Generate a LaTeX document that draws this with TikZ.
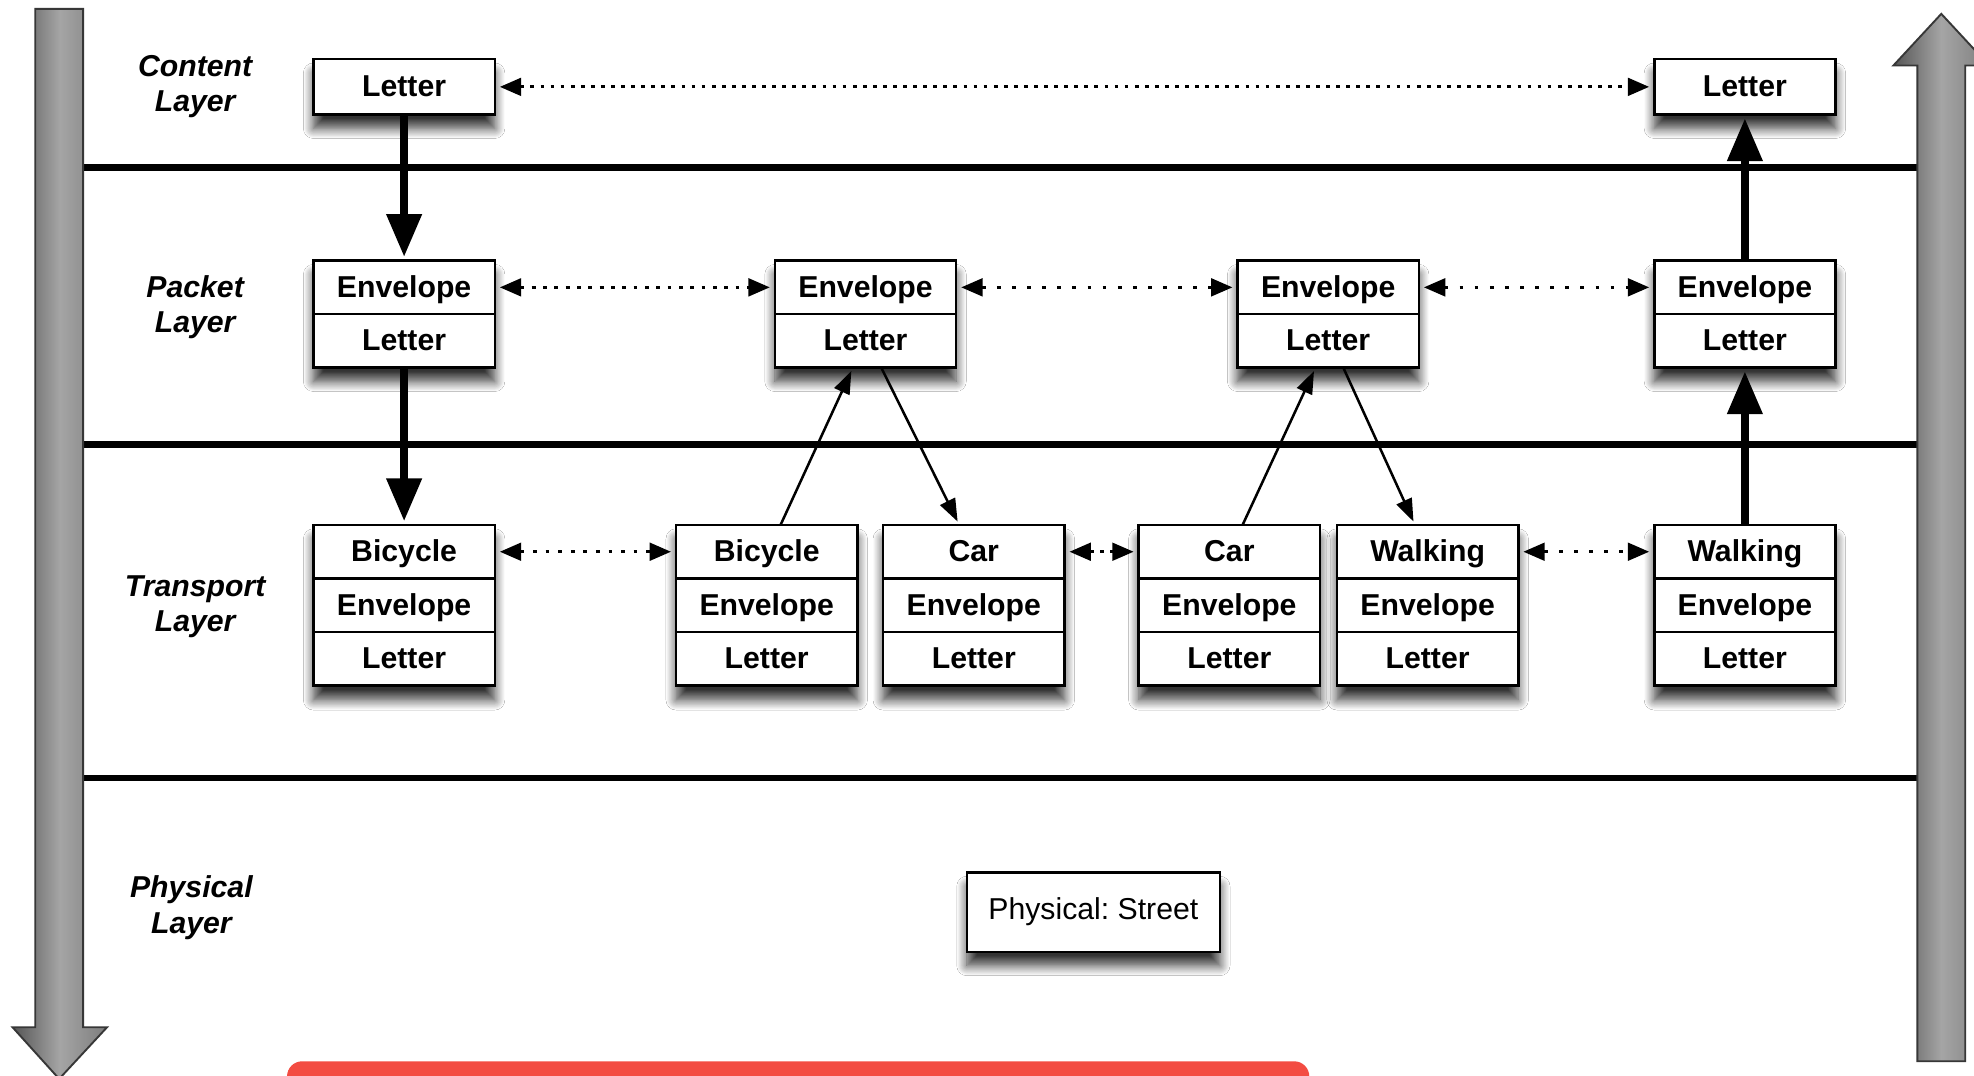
\documentclass[tikz,border=0pt]{standalone}
\usepackage{fontspec}
\setmainfont{Liberation Sans}
\frenchspacing
\usetikzlibrary{arrows.meta,shadows.blur}
\definecolor{barred}{RGB}{243,76,66}
\definecolor{arrowedge}{RGB}{55,55,55}
\definecolor{shadeA}{RGB}{85,85,85}
\definecolor{shadeB}{RGB}{165,165,165}
\definecolor{shadeC}{RGB}{125,125,125}
\begin{document}
\begin{tikzpicture}[x=1pt,y=-1pt,
  shad/.style={blur shadow={shadow xshift=0pt, shadow yshift=-11pt, shadow blur radius=8pt, shadow blur steps=12, shadow opacity=80}},
  frame/.style={draw=black, line width=2pt, fill=white, minimum width=144pt, inner sep=0pt, outer sep=0pt, anchor=north, shad},
  cell/.style={draw=black, line width=2pt, fill=white, minimum width=144pt, minimum height=42.5pt, inner sep=0pt, outer sep=0pt, anchor=north, font=\fontsize{24}{28}\selectfont\bfseries, text height=19pt, text depth=3pt},
  layerlabel/.style={align=center, font=\fontsize{24}{28}\selectfont\bfseries\itshape},
  layerline/.style={line width=5pt, black},
  bigarrow/.style={draw=arrowedge, line width=1.5pt, left color=shadeA, right color=shadeC, middle color=shadeB},
  dotarr/.style={line width=2.5pt, dash pattern=on 3pt off 5pt, {Triangle[length=17pt,width=14pt]}-{Triangle[length=17pt,width=14pt]}, shorten <=4pt, shorten >=4pt},
  sparsearr/.style={dotarr, dash pattern=on 3pt off 9pt},
  thickarr/.style={line width=6pt, -{Triangle[length=34pt,width=27pt]}, shorten >=3pt},
  thinarr/.style={line width=2pt, -{Triangle[length=18pt,width=13pt]}, shorten >=3pt}
]
\useasboundingbox (0,0) rectangle (1568,854);
\clip (0,0) rectangle (1568,854);
\fill[white] (0,0) rectangle (1568,854);

% layer separators
\draw[layerline] (66,133) -- (1523,133);
\draw[layerline] (66,353) -- (1523,353);
\draw[layerline] (66,618) -- (1523,618);

% big side arrows
\draw[bigarrow] (28,7) -- (66,7) -- (66,816) -- (85,816) -- (47,857) -- (10,816) -- (28,816) -- cycle;
\draw[bigarrow] (1523,843) -- (1561,843) -- (1561,52) -- (1580,52) -- (1542,11) -- (1504,52) -- (1523,52) -- cycle;

% layer labels
\node[layerlabel] (lc) at (155,69) {Content\\Layer};
\node[layerlabel] (lp) at (155,244) {Packet\\Layer};
\node[layerlabel] (lt) at (155,482) {Transport\\Layer};
\node[layerlabel] (lph) at (152,721) {Physical\\Layer};

% content layer
\node[cell, minimum height=44pt, shad] (L1) at (321,47) {Letter};
\node[cell, minimum height=44pt, shad] (L2) at (1386,47) {Letter};

% packet layer
\foreach \n/\x in {P1/321, P2/687.5, P3/1055, P4/1386}{
  \node[frame, minimum height=85pt] (\n) at (\x,207) {};
  \node[cell] (\n e) at (\n.north) {Envelope};
  \node[cell] (\n l) at (\n e.south) {Letter};
}

% transport layer
\foreach \n/\x/\t in {T1/321/Bicycle, T2/609/Bicycle, T3/773.5/Car, T4/976.5/Car, T5/1134/Walking, T6/1386/Walking}{
  \node[frame, minimum height=128pt] (\n) at (\x,417) {};
  \node[cell] (\n a) at (\n.north) {\t};
  \node[cell] (\n b) at (\n a.south) {Envelope};
  \node[cell] (\n c) at (\n b.south) {Letter};
}

% physical layer
\node[cell, font=\fontsize{24}{28}\selectfont, text height=17pt, text depth=5pt, minimum width=201pt, minimum height=63pt, shad] (phys) at (868.5,693) {Physical: Street};

% peer arrows
\draw[dotarr] (L1.east) -- (L2.west);
\draw[dotarr, dash pattern=on 3pt off 6pt] (P1e.east) -- (P2e.west);
\draw[sparsearr] (P2e.east) -- (P3e.west);
\draw[sparsearr] (P3e.east) -- (P4e.west);
\draw[dotarr, dash pattern=on 3pt off 7pt] (T1a.east) -- (T2a.west);
\draw[dotarr] (T3a.east) -- (T4a.west);
\draw[sparsearr] (T5a.east) -- (T6a.west);

% vertical flow
\draw[thickarr] (L1.south) -- (P1e.north);
\draw[thickarr] (P1l.south) -- (T1a.north);
\draw[thickarr] (T6a.north) -- (P4l.south);
\draw[thickarr] (P4e.north) -- (L2.south);

\draw[thinarr] ([xshift=11pt]T2a.north) -- ([xshift=-10pt]P2l.south);
\draw[thinarr] ([xshift=12.5pt]P2l.south) -- ([xshift=-11.5pt]T3a.north);
\draw[thinarr] ([xshift=10.5pt]T4a.north) -- ([xshift=-10pt]P3l.south);
\draw[thinarr] ([xshift=12pt]P3l.south) -- ([xshift=-10pt]T5a.north);

% red bar at the bottom edge
\fill[barred, rounded corners=12pt] (228,843) rectangle (1040,885);
\end{tikzpicture}
\end{document}
